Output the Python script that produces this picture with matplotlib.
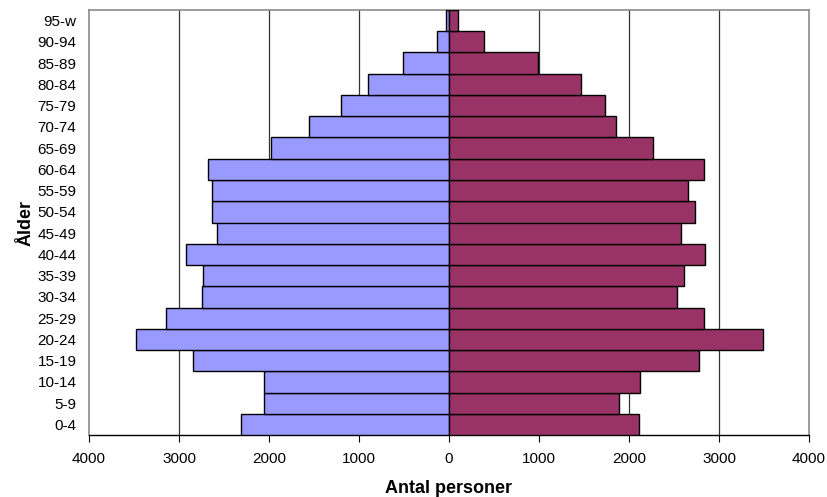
import numpy as np
import matplotlib
matplotlib.use("Agg")
import matplotlib.pyplot as plt
from matplotlib.ticker import FuncFormatter

plt.rcParams['font.family'] = ['Liberation Sans', 'DejaVu Sans']

age_groups = ["0-4", "5-9", "10-14", "15-19", "20-24", "25-29", "30-34", "35-39",
              "40-44", "45-49", "50-54", "55-59", "60-64", "65-69", "70-74",
              "75-79", "80-84", "85-89", "90-94", "95-w"]
men = [2316, 2060, 2057, 2840, 3482, 3144, 2743, 2728, 2925, 2578, 2628, 2631,
       2676, 1979, 1552, 1199, 902, 509, 137, 33]
women = [2113, 1893, 2120, 2780, 3486, 2836, 2528, 2613, 2847, 2578, 2732, 2658,
         2832, 2268, 1852, 1733, 1466, 991, 386, 104]
x_ticks = [-4000, -3000, -2000, -1000, 0, 1000, 2000, 3000, 4000]

fig = plt.figure(figsize=(8.28, 4.97), dpi=100)
ax = fig.add_axes([89 / 828, 62 / 497, 720 / 828, 425 / 497])

y = np.arange(len(age_groups))
ax.barh(y, [-m for m in men], height=1.0, color="#9999FF", edgecolor="black",
        linewidth=1.0, zorder=3)
ax.barh(y, women, height=1.0, color="#993366", edgecolor="black",
        linewidth=1.0, zorder=3)

ax.set_xlim(-4000, 4000)
ax.set_ylim(-0.5, len(age_groups) - 0.5)
ax.set_xticks(x_ticks)
ax.xaxis.set_major_formatter(FuncFormatter(lambda v, p: "%d" % abs(v)))
ax.set_yticks(y)
ax.set_yticklabels(age_groups)

for v in x_ticks[1:-1]:
    if v != 0:
        ax.axvline(v, color="#333333", linewidth=0.9, zorder=1)

ax.tick_params(axis="y", length=0, labelsize=11, pad=9)
ax.tick_params(axis="x", length=5, direction="out", labelsize=11, pad=7)

for side in ["top", "right", "left"]:
    ax.spines[side].set_color("#8c8c8c")
    ax.spines[side].set_linewidth(1.2)
ax.spines["bottom"].set_color("black")
ax.spines["bottom"].set_linewidth(1.0)

ax.set_xlabel("Antal personer", fontsize=13, fontweight="bold", labelpad=10)
ax.set_ylabel("Ålder", fontsize=13, fontweight="bold", labelpad=2)

fig.savefig("out.png", dpi=100)
